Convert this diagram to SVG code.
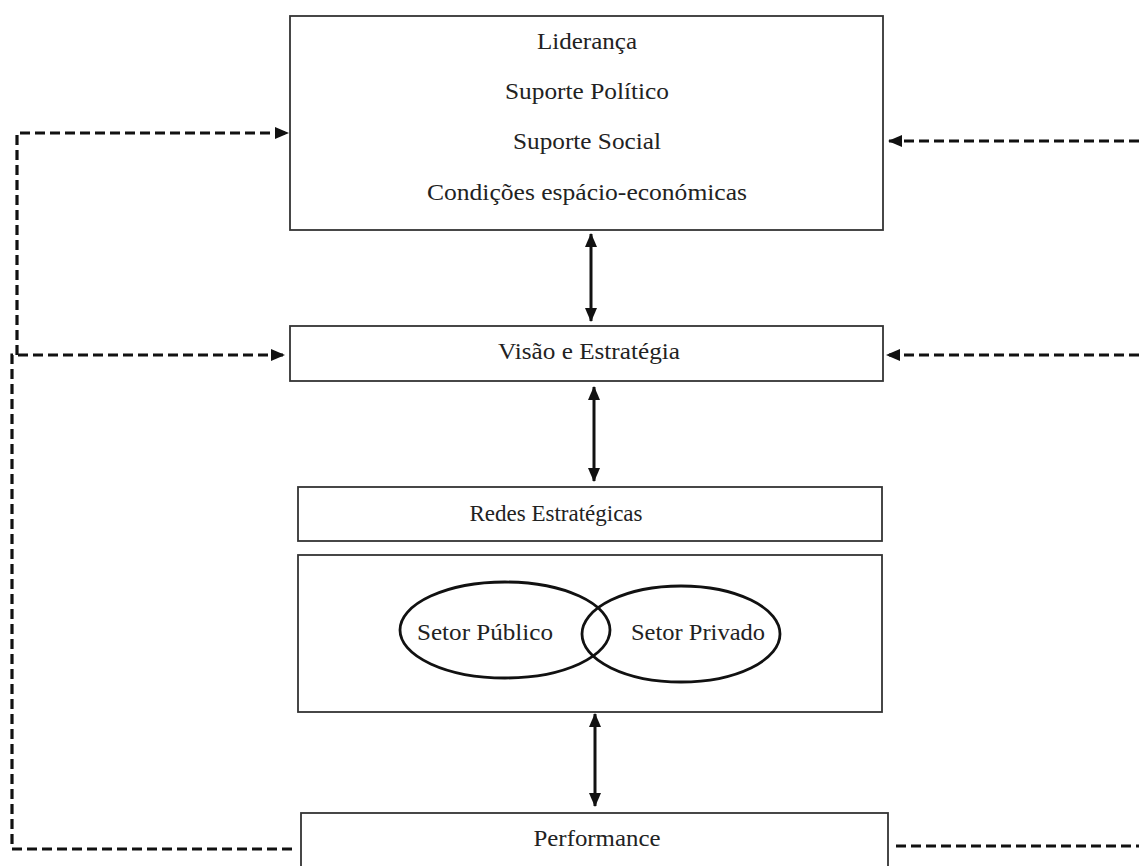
<svg xmlns="http://www.w3.org/2000/svg" width="1139" height="866" viewBox="0 0 1139 866">
<defs>
<style>
.box{fill:#fff;stroke:#333;stroke-width:1.8}
.ell{fill:none;stroke:#111;stroke-width:2.8}
.t{font-family:"Liberation Serif","Times New Roman",serif;font-size:23px;fill:#222;text-anchor:middle}
.dash{fill:none;stroke:#111;stroke-width:3.2;stroke-dasharray:10 5}
.solid{fill:none;stroke:#111;stroke-width:3}
</style>
<marker id="ah" viewBox="0 0 14 12" refX="13" refY="6" markerWidth="14" markerHeight="12" markerUnits="userSpaceOnUse" orient="auto-start-reverse">
<path d="M0,0 L14,6 L0,12 Z" fill="#111"/>
</marker>
</defs>
<rect width="1139" height="866" fill="#fff"/>
<g id="connectors">
<path class="solid" d="M591,234 V321" marker-start="url(#ah)" marker-end="url(#ah)"/>
<path class="solid" d="M594,387 V481" marker-start="url(#ah)" marker-end="url(#ah)"/>
<path class="solid" d="M595,714 V806" marker-start="url(#ah)" marker-end="url(#ah)"/>
<path class="dash" d="M17,355 V133 H288" marker-end="url(#ah)"/>
<path class="dash" d="M292,849 H12 V355 H284" marker-end="url(#ah)"/>
<path class="dash" d="M1139,141 H889" marker-end="url(#ah)"/>
<path class="dash" d="M1139,355 H887" marker-end="url(#ah)"/>
<path class="dash" d="M896,846 H1139"/>
</g>
<g id="node-top">
<rect class="box" x="290" y="16" width="593" height="214"/>
<text class="t" x="587" y="49" textLength="100" lengthAdjust="spacingAndGlyphs">Liderança</text>
<text class="t" x="587" y="99" textLength="164" lengthAdjust="spacingAndGlyphs">Suporte Político</text>
<text class="t" x="587" y="149" textLength="148" lengthAdjust="spacingAndGlyphs">Suporte Social</text>
<text class="t" x="587" y="200" textLength="320" lengthAdjust="spacingAndGlyphs">Condições espácio-económicas</text>
</g>
<g id="node-visao">
<rect class="box" x="290" y="326" width="593" height="55"/>
<text class="t" x="589" y="359" textLength="182" lengthAdjust="spacingAndGlyphs">Visão e Estratégia</text>
</g>
<g id="node-redes">
<rect class="box" x="298" y="487" width="584" height="54"/>
<text class="t" x="556" y="521">Redes Estratégicas</text>
</g>
<g id="node-setores">
<rect class="box" x="298" y="555" width="584" height="157"/>
<ellipse class="ell" cx="505" cy="630" rx="105" ry="48"/>
<ellipse class="ell" cx="681" cy="634" rx="99" ry="48"/>
<text class="t" x="485" y="640" textLength="136" lengthAdjust="spacingAndGlyphs">Setor Público</text>
<text class="t" x="698" y="640" textLength="134" lengthAdjust="spacingAndGlyphs">Setor Privado</text>
</g>
<g id="node-performance">
<rect class="box" x="301" y="813" width="587" height="70"/>
<text class="t" x="597" y="846" textLength="127" lengthAdjust="spacingAndGlyphs">Performance</text>
</g>
</svg>
